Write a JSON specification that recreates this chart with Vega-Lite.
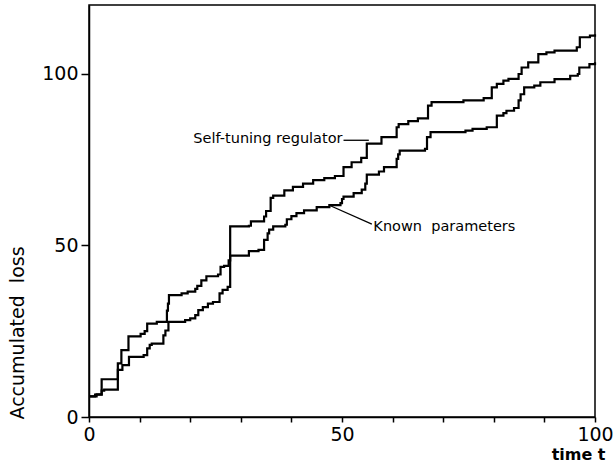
{
  "$schema": "https://vega.github.io/schema/vega-lite/v6.json",
  "width": 506,
  "height": 412,
  "autosize": {"type": "none"},
  "padding": {"left": 89, "top": 5, "right": 18, "bottom": 53},
  "background": "white",
  "config": {
    "view": {"stroke": "black", "strokeWidth": 1.5},
    "font": "DejaVu Sans",
    "axis": {
      "grid": false,
      "domainColor": "black",
      "domainWidth": 1.5,
      "tickColor": "black",
      "tickWidth": 1.5,
      "labelColor": "black",
      "titleColor": "black",
      "labelFont": "DejaVu Sans",
      "titleFont": "DejaVu Sans"
    }
  },
  "datasets": {
    "curves": [
      {"series": "A", "t": 0, "L": 6}, {"series": "A", "t": 1.5, "L": 6.6}, {"series": "A", "t": 2.5, "L": 11}, {"series": "A", "t": 5.7, "L": 15.6}, {"series": "A", "t": 6.4, "L": 19.5}, {"series": "A", "t": 7.8, "L": 23.5}, {"series": "A", "t": 10.2, "L": 24.2}, {"series": "A", "t": 11, "L": 25}, {"series": "A", "t": 11.5, "L": 27.2}, {"series": "A", "t": 13.4, "L": 27.7}, {"series": "A", "t": 15.4, "L": 31}, {"series": "A", "t": 15.6, "L": 33}, {"series": "A", "t": 15.8, "L": 35.5}, {"series": "A", "t": 18.3, "L": 36}, {"series": "A", "t": 19.5, "L": 36.5}, {"series": "A", "t": 21, "L": 37.3}, {"series": "A", "t": 21.4, "L": 38.2}, {"series": "A", "t": 22.2, "L": 39.8}, {"series": "A", "t": 23.2, "L": 41}, {"series": "A", "t": 25.5, "L": 41.5}, {"series": "A", "t": 26, "L": 43.7}, {"series": "A", "t": 26.7, "L": 44}, {"series": "A", "t": 27.6, "L": 45.6}, {"series": "A", "t": 27.9, "L": 55.5}, {"series": "A", "t": 31.6, "L": 55.7}, {"series": "A", "t": 32, "L": 57}, {"series": "A", "t": 34.6, "L": 58.4}, {"series": "A", "t": 35, "L": 60}, {"series": "A", "t": 35.9, "L": 63.8}, {"series": "A", "t": 36.4, "L": 64.5}, {"series": "A", "t": 38.6, "L": 66}, {"series": "A", "t": 40.3, "L": 67}, {"series": "A", "t": 42.3, "L": 68}, {"series": "A", "t": 44.3, "L": 69}, {"series": "A", "t": 46.5, "L": 69.6}, {"series": "A", "t": 48.6, "L": 70.2}, {"series": "A", "t": 50.3, "L": 72.8}, {"series": "A", "t": 51.9, "L": 74.2}, {"series": "A", "t": 53.8, "L": 75.5}, {"series": "A", "t": 54.9, "L": 79.6}, {"series": "A", "t": 57.8, "L": 81.5}, {"series": "A", "t": 60.8, "L": 84.4}, {"series": "A", "t": 61.2, "L": 85.3}, {"series": "A", "t": 63.1, "L": 86.2}, {"series": "A", "t": 65, "L": 87}, {"series": "A", "t": 67, "L": 90.7}, {"series": "A", "t": 67.7, "L": 91.7}, {"series": "A", "t": 74, "L": 92.2}, {"series": "A", "t": 78, "L": 92.9}, {"series": "A", "t": 79.6, "L": 96}, {"series": "A", "t": 80.6, "L": 97}, {"series": "A", "t": 81.9, "L": 98}, {"series": "A", "t": 82.9, "L": 98.5}, {"series": "A", "t": 84.9, "L": 99.9}, {"series": "A", "t": 85.5, "L": 101.8}, {"series": "A", "t": 86.8, "L": 103.3}, {"series": "A", "t": 88.8, "L": 105.7}, {"series": "A", "t": 90.4, "L": 106.2}, {"series": "A", "t": 92, "L": 106.7}, {"series": "A", "t": 96.4, "L": 107.7}, {"series": "A", "t": 97, "L": 110.6}, {"series": "A", "t": 99, "L": 111.1}, {"series": "A", "t": 100, "L": 111.5},
      {"series": "B", "t": 0, "L": 6}, {"series": "B", "t": 1.2, "L": 6.5}, {"series": "B", "t": 2.5, "L": 7.7}, {"series": "B", "t": 3, "L": 8}, {"series": "B", "t": 5.7, "L": 13.7}, {"series": "B", "t": 6.6, "L": 15.1}, {"series": "B", "t": 7.9, "L": 17.5}, {"series": "B", "t": 10.8, "L": 18}, {"series": "B", "t": 11.5, "L": 20}, {"series": "B", "t": 12, "L": 21}, {"series": "B", "t": 12.4, "L": 21.4}, {"series": "B", "t": 14.7, "L": 23.8}, {"series": "B", "t": 15.1, "L": 25.2}, {"series": "B", "t": 15.7, "L": 27.7}, {"series": "B", "t": 19, "L": 28.2}, {"series": "B", "t": 20, "L": 28.7}, {"series": "B", "t": 21, "L": 29.7}, {"series": "B", "t": 21.6, "L": 31.1}, {"series": "B", "t": 22.5, "L": 32}, {"series": "B", "t": 23.5, "L": 33}, {"series": "B", "t": 24.5, "L": 33.5}, {"series": "B", "t": 25.8, "L": 36}, {"series": "B", "t": 26.4, "L": 37}, {"series": "B", "t": 27.4, "L": 37.9}, {"series": "B", "t": 27.9, "L": 47}, {"series": "B", "t": 31.6, "L": 48.3}, {"series": "B", "t": 33.5, "L": 48.7}, {"series": "B", "t": 34.6, "L": 51.6}, {"series": "B", "t": 35.3, "L": 53.5}, {"series": "B", "t": 35.6, "L": 54.6}, {"series": "B", "t": 36.4, "L": 55.5}, {"series": "B", "t": 38.8, "L": 56}, {"series": "B", "t": 39.1, "L": 57.6}, {"series": "B", "t": 40, "L": 58.5}, {"series": "B", "t": 41, "L": 59.4}, {"series": "B", "t": 42.5, "L": 60.2}, {"series": "B", "t": 45, "L": 61.1}, {"series": "B", "t": 47.5, "L": 61.7}, {"series": "B", "t": 49.7, "L": 62.3}, {"series": "B", "t": 50, "L": 63.5}, {"series": "B", "t": 50.3, "L": 64.2}, {"series": "B", "t": 52.3, "L": 65.2}, {"series": "B", "t": 53.9, "L": 66.2}, {"series": "B", "t": 54.6, "L": 68}, {"series": "B", "t": 54.9, "L": 70.6}, {"series": "B", "t": 57.3, "L": 71.5}, {"series": "B", "t": 58.3, "L": 72.8}, {"series": "B", "t": 60.8, "L": 75.2}, {"series": "B", "t": 61.1, "L": 76.5}, {"series": "B", "t": 61.4, "L": 77.6}, {"series": "B", "t": 66.4, "L": 78.1}, {"series": "B", "t": 66.8, "L": 81.5}, {"series": "B", "t": 67.5, "L": 83}, {"series": "B", "t": 74.4, "L": 83.4}, {"series": "B", "t": 75.8, "L": 83.9}, {"series": "B", "t": 78.6, "L": 84.4}, {"series": "B", "t": 80.6, "L": 87.8}, {"series": "B", "t": 81.9, "L": 88.5}, {"series": "B", "t": 82.5, "L": 89.2}, {"series": "B", "t": 84, "L": 90}, {"series": "B", "t": 84.9, "L": 92.2}, {"series": "B", "t": 85.3, "L": 94}, {"series": "B", "t": 86, "L": 96}, {"series": "B", "t": 88, "L": 96.5}, {"series": "B", "t": 89.2, "L": 97.5}, {"series": "B", "t": 92, "L": 98.4}, {"series": "B", "t": 95.1, "L": 99.4}, {"series": "B", "t": 96.6, "L": 99.9}, {"series": "B", "t": 96.9, "L": 101.8}, {"series": "B", "t": 98.9, "L": 102.8}, {"series": "B", "t": 100, "L": 103.3}
    ],
    "leaders": [
      {"name": "str", "t": 50.3, "L": 80.6, "t2": 55.3, "L2": 80.6},
      {"name": "known", "t": 55.9, "L": 56.2, "t2": 47.6, "L2": 61.6}
    ],
    "labelSTR": [{"text": "Self-tuning regulator", "t": 50.1, "L": 81}],
    "labelKnown": [{"text": "Known\u00a0 parameters", "t": 56.2, "L": 55.2}]
  },
  "layer": [
    {
      "data": {"name": "curves"},
      "mark": {"type": "line", "interpolate": "step-after", "color": "black", "strokeWidth": 2.2},
      "encoding": {
        "x": {
          "field": "t", "type": "quantitative",
          "scale": {"domain": [0, 100], "nice": false, "zero": false},
          "axis": {
            "values": [0, 10, 20, 30, 40, 50, 60, 70, 80, 90, 100],
            "labelExpr": "datum.value % 50 === 0 ? datum.label : ''",
            "labelFlush": false,
            "labelOverlap": false,
            "labelFontSize": 19,
            "labelPadding": 3,
            "tickSize": 5,
            "title": "time t",
            "titleFontSize": 16,
            "titleFontWeight": "bold",
            "titleX": 516,
            "titleY": 37,
            "titleAlign": "right",
            "titleBaseline": "middle"
          }
        },
        "y": {
          "field": "L", "type": "quantitative",
          "scale": {"domain": [0, 120], "nice": false},
          "axis": {
            "values": [0, 50, 100],
            "labelFontSize": 19,
            "labelPadding": 3,
            "tickSize": 8,
            "title": "Accumulated\u00a0 loss",
            "titleFontSize": 19,
            "titleFontWeight": "normal",
            "titleAngle": 270,
            "titleX": -72,
            "titleY": 414,
            "titleAlign": "left",
            "titleBaseline": "middle"
          }
        },
        "detail": {"field": "series"}
      }
    },
    {
      "data": {"name": "leaders"},
      "mark": {"type": "rule", "color": "black", "strokeWidth": 1.3},
      "encoding": {
        "x": {"field": "t", "type": "quantitative"},
        "y": {"field": "L", "type": "quantitative"},
        "x2": {"field": "t2"},
        "y2": {"field": "L2"}
      }
    },
    {
      "data": {"name": "labelSTR"},
      "mark": {"type": "text", "align": "right", "baseline": "middle", "fontSize": 14.5, "color": "black"},
      "encoding": {
        "x": {"field": "t", "type": "quantitative"},
        "y": {"field": "L", "type": "quantitative"},
        "text": {"field": "text"}
      }
    },
    {
      "data": {"name": "labelKnown"},
      "mark": {"type": "text", "align": "left", "baseline": "middle", "fontSize": 14.5, "color": "black"},
      "encoding": {
        "x": {"field": "t", "type": "quantitative"},
        "y": {"field": "L", "type": "quantitative"},
        "text": {"field": "text"}
      }
    }
  ]
}
